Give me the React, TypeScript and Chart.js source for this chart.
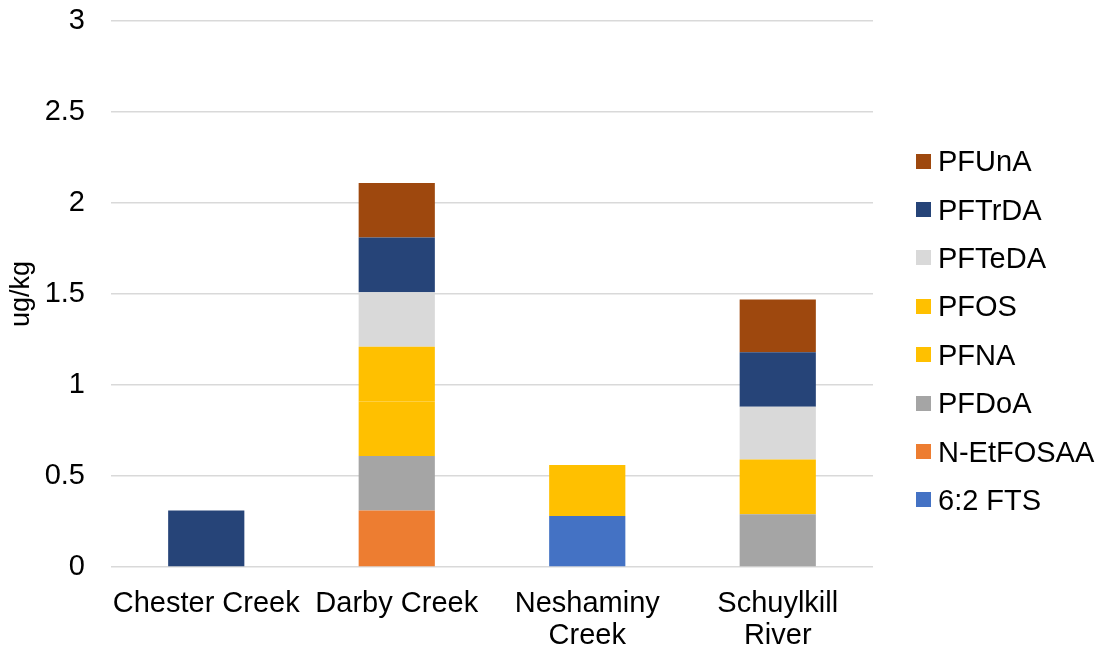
import React, { useEffect, useRef } from "react";
import { Chart, registerables } from "chart.js";

Chart.register(...registerables);

// Sampling sites along the x axis
const sites: (string | string[])[] = [
  "Chester Creek",
  "Darby Creek",
  ["Neshaminy", "Creek"],
  ["Schuylkill", "River"],
];

// Compounds, listed bottom of stack to top
const compounds = ["6:2 FTS", "N-EtFOSAA", "PFDoA", "PFNA", "PFOS", "PFTeDA", "PFTrDA", "PFUnA"];
const compoundColors = ["#4472C4", "#ED7D31", "#A5A5A5", "#FFC000", "#FFC000", "#D9D9D9", "#264478", "#9E480E"];

// Concentrations (ug/kg) per site, one array per compound
const fts62 = [0, 0, 0.28, 0];
const nEtFOSAA = [0, 0.31, 0, 0];
const pfdoa = [0, 0.3, 0, 0.29];
const pfna = [0, 0.3, 0, 0];
const pfos = [0, 0.3, 0.28, 0.3];
const pfteda = [0, 0.3, 0, 0.29];
const pftrda = [0.31, 0.3, 0, 0.3];
const pfuna = [0, 0.3, 0, 0.29];

const seriesValues = [fts62, nEtFOSAA, pfdoa, pfna, pfos, pfteda, pftrda, pfuna];

// Y axis range and tick step
const yMin = 0;
const yMax = 3;
const yStep = 0.5;
const yTitle = "ug/kg";

const FONT = "'Liberation Sans', Arial, Helvetica, sans-serif";

export default function App() {
  const canvasRef = useRef<HTMLCanvasElement | null>(null);

  useEffect(() => {
    const canvas = canvasRef.current;
    if (!canvas) return;
    const chart = new Chart(canvas, {
      type: "bar",
      data: {
        labels: sites,
        datasets: compounds.map((name, i) => ({
          label: name,
          data: seriesValues[i],
          backgroundColor: compoundColors[i],
          borderWidth: 0,
          stack: "s",
          categoryPercentage: 1,
          barPercentage: 0.4,
        })),
      },
      options: {
        animation: false,
        responsive: true,
        maintainAspectRatio: false,
        layout: { padding: { top: 21, right: 224, bottom: 0, left: 0 } },
        plugins: {
          legend: { display: false },
          tooltip: { enabled: false },
        },
        scales: {
          x: {
            stacked: true,
            grid: { display: false, drawTicks: false },
            border: { display: false },
            ticks: {
              color: "#000",
              padding: 21,
              maxRotation: 0,
              autoSkip: false,
              font: { family: FONT, size: 29, lineHeight: 1.1 },
            },
            afterFit: (scale: any) => {
              scale.height = 81;
              scale.paddingLeft = 0;
              scale.paddingRight = 0;
            },
          },
          y: {
            stacked: true,
            min: yMin,
            max: yMax,
            grid: { color: "#D9D9D9", lineWidth: 1.5, drawTicks: false },
            border: { display: false },
            ticks: {
              stepSize: yStep,
              color: "#000",
              padding: 26,
              font: { family: FONT, size: 29 },
              callback: (v: any) => String(v),
            },
            title: {
              display: true,
              text: yTitle,
              color: "#000",
              padding: { top: 5, bottom: 0 },
              font: { family: FONT, size: 27, lineHeight: 1.2 },
            },
            afterFit: (scale: any) => {
              scale.width = 111;
              scale.paddingTop = 0;
              scale.paddingBottom = 0;
            },
          },
        },
      },
    });
    return () => chart.destroy();
  }, []);

  // Legend lists compounds top of stack first
  const legendOrder = compounds.map((_, i) => i).reverse();

  return (
    <div style={{ position: "absolute", left: 0, top: 0, width: 1097, height: 648, background: "#fff" }}>
      <canvas ref={canvasRef} />
      <div style={{ position: "absolute", left: 916, top: 137, fontFamily: FONT, fontSize: 29, color: "#000" }}>
        {legendOrder.map((i) => (
          <div key={compounds[i]} style={{ display: "flex", alignItems: "center", height: 48.4 }}>
            <span style={{ display: "inline-block", width: 15, height: 15, background: compoundColors[i], marginRight: 7 }} />
            <span style={{ lineHeight: "32px" }}>{compounds[i]}</span>
          </div>
        ))}
      </div>
    </div>
  );
}
